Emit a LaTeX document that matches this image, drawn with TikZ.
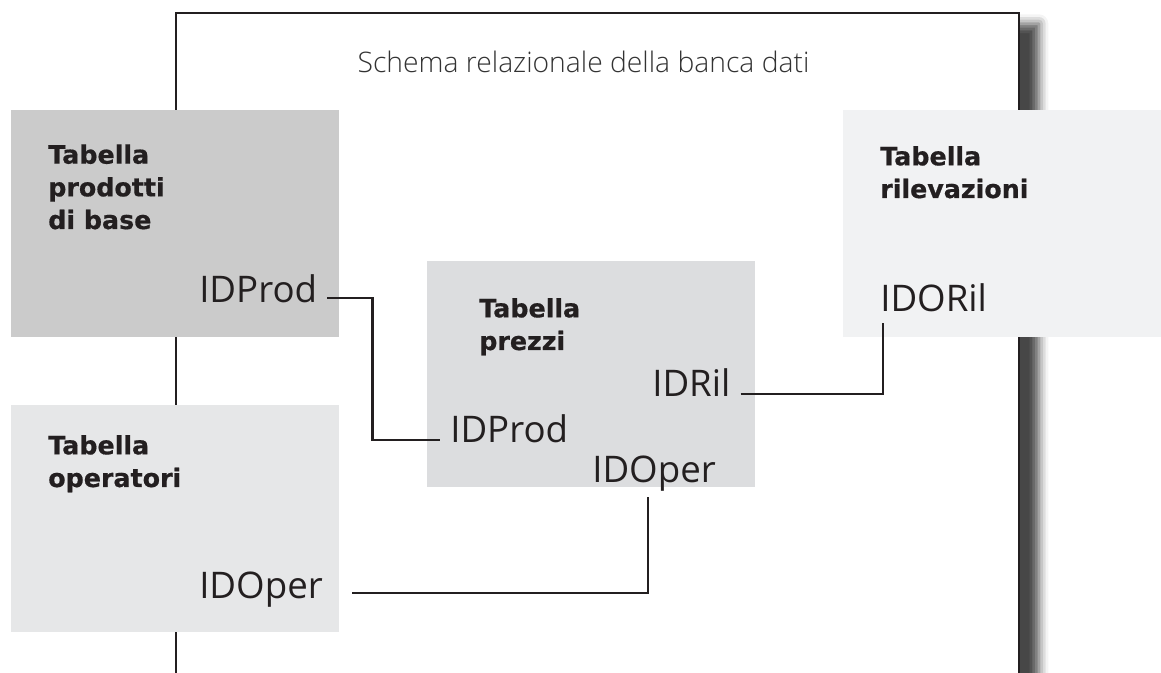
\documentclass[tikz,border=0pt]{standalone}
\usepackage{fontspec}
\setmainfont{Open Sans}
\newfontfamily\boldfnt{DejaVu Sans}[BoldFont={DejaVu Sans Bold}, BoldFeatures={FakeBold=0.6}]
\newfontfamily\lightfnt{Open Sans Light}
\usetikzlibrary{shadows.blur,calc}
\definecolor{ink}{HTML}{231F20}
\definecolor{titlegray}{HTML}{333333}
\definecolor{gA}{HTML}{CBCBCB}
\definecolor{gB}{HTML}{E6E7E8}
\definecolor{gC}{HTML}{DCDDDF}
\definecolor{gD}{HTML}{F1F2F3}
\tikzset{
  tbl/.style={draw=none, inner sep=0pt, anchor=north west, minimum width=246pt, minimum height=170.25pt},
  tblname/.style={inner sep=0pt, anchor=base west, align=left, text=ink, font=\boldfnt\bfseries\fontsize{19pt}{24.5pt}\selectfont},
  idlbl/.style={inner sep=7.5pt, anchor=base west, text=ink, font=\fontsize{27.5pt}{33pt}\selectfont},
  conn/.style={draw=ink, line width=1.7pt},
  frame/.style={draw=ink, line width=1.1pt, fill=white}
}
\begin{document}
\begin{tikzpicture}[x=0.75pt, y=-0.75pt]
\useasboundingbox (0,0) rectangle (1161,673);
% frame with shadow
\path[frame, blur shadow={shadow xshift=15pt, shadow yshift=-8pt, shadow blur radius=7pt, shadow opacity=72}] (176,13) rectangle (1019,740);
\node[text=titlegray, font=\lightfnt\fontsize{21.2pt}{25pt}\selectfont, anchor=base, inner sep=0pt] (title) at (583.5,73) {Schema relazionale della banca dati};
% boxes
\node[tbl, fill=gA] (bA) at (11,110) {};
\node[tbl, fill=gB] (bB) at (11,405) {};
\node[tbl, fill=gC, minimum height=169.5pt] (bC) at (427,261) {};
\node[tbl, fill=gD, minimum width=238.5pt] (bD) at (843,110) {};
% table names (anchored at baseline of last line)
\node[tblname] (nA) at (48,229) {Tabella\\prodotti\\di base};
\node[tblname] (nB) at (48,487) {Tabella\\operatori};
\node[tblname] (nC) at (479,350) {Tabella\\prezzi};
\node[tblname] (nD) at (880,198) {Tabella\\rilevazioni};
% key labels
\node[idlbl] (p1) at (189,303) {IDProd};
\node[idlbl] (p2) at (440,443) {IDProd};
\node[idlbl] (r2) at (642,397) {IDRil};
\node[idlbl] (o2) at (582,483) {IDOper};
\node[idlbl] (o1) at (189,599) {IDOper};
\node[idlbl] (r4) at (870,312) {IDORil};
% connectors
\draw[conn] ([yshift=3.75pt]p1.base east) -- ++(45,0) |- ([yshift=2.25pt]p2.base west);
\draw[conn] ([yshift=2.25pt]r2.base east) -| ([xshift=10pt]r4.south west);
\draw[conn] ([xshift=49.5pt,yshift=3.75pt]o2.south west) |- ([xshift=14pt,yshift=4.5pt]o1.base east);
\end{tikzpicture}
\end{document}
